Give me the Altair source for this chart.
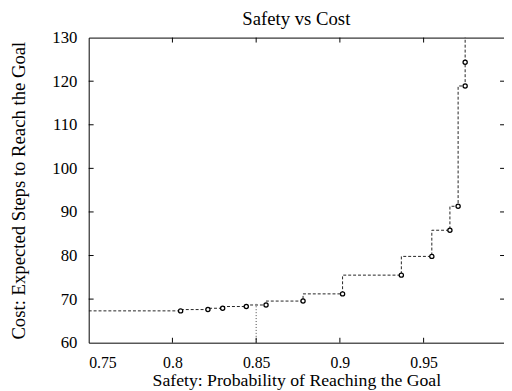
import altair as alt
import pandas as pd

# Frontier points (safety, expected cost)
safety = [0.8049, 0.8212, 0.8300, 0.8441, 0.8559, 0.8780, 0.9016, 0.9367, 0.9549, 0.9657, 0.9706, 0.9748, 0.9748]
cost = [67.3, 67.6, 67.9, 68.3, 68.65, 69.55, 71.2, 75.5, 79.8, 85.8, 91.3, 118.9, 124.35]

# step line extends from the left edge and beyond the top
line_start = (0.75, 67.3)
line_end = (0.9748, 135.0)

# threshold marker
threshold_x = 0.85
threshold_y = [60.0, 68.9]

x_ticks = [0.75, 0.8, 0.85, 0.9, 0.95]
y_ticks = [60, 70, 80, 90, 100, 110, 120, 130]

W, H = 422, 310
FONT = "Liberation Serif"

pts = pd.DataFrame({"s": safety, "c": cost})
line_df = pd.DataFrame({
    "s": [line_start[0]] + safety + [line_end[0]],
    "c": [line_start[1]] + cost + [line_end[1]],
})
line_df["o"] = range(len(line_df))
thr_df = pd.DataFrame({"s": [threshold_x], "c": [threshold_y[0]], "c2": [threshold_y[1]]})
xt_df = pd.DataFrame({"s": x_ticks[1:]})
yt_df = pd.DataFrame({"c": y_ticks[1:-1]})

xscale = alt.Scale(domain=[0.75, 0.998], nice=False, zero=False)
yscale = alt.Scale(domain=[60, 130], nice=False, zero=False)

x_axis = alt.Axis(values=x_ticks, format=".2~f", ticks=False, grid=False,
                  domainColor="black", labelPadding=12, titlePadding=1,
                  labelFontSize=16, titleFontSize=18,
                  title="Safety: Probability of Reaching the Goal")
y_axis = alt.Axis(values=y_ticks, ticks=False, grid=False, domainColor="black",
                  labelPadding=12, titlePadding=24,
                  labelFontSize=17, titleFontSize=19,
                  title="Cost: Expected Steps to Reach the Goal")

line = alt.Chart(line_df).mark_line(
    interpolate="step-before", color="#222", strokeWidth=1, strokeDash=[3, 2], clip=True
).encode(
    x=alt.X("s:Q", scale=xscale, axis=x_axis),
    y=alt.Y("c:Q", scale=yscale, axis=y_axis),
    order="o:Q",
)

top = alt.Chart(pts).mark_point(opacity=0).encode(
    x=alt.X("s:Q", scale=xscale, axis=alt.Axis(orient="top", labels=False, ticks=False,
                                                 grid=False, domainColor="black", title=None)),
    y=alt.Y("c:Q", scale=yscale, axis=None),
)

thr = alt.Chart(thr_df).mark_rule(color="#444", strokeWidth=1, strokeDash=[1, 2]).encode(
    x=alt.X("s:Q", scale=xscale, axis=None),
    y=alt.Y("c:Q", scale=yscale, axis=None),
    y2="c2:Q",
)

markers = alt.Chart(pts).mark_point(
    shape="circle", size=18, filled=True, fill="white", stroke="black", strokeWidth=1.3, opacity=1
).encode(
    x=alt.X("s:Q", scale=xscale, axis=None),
    y=alt.Y("c:Q", scale=yscale, axis=None),
)

bt = alt.Chart(xt_df).mark_rule(color="black").encode(
    x=alt.X("s:Q", scale=xscale, axis=None), y=alt.value(H), y2=alt.value(H - 5))
tt = alt.Chart(xt_df).mark_rule(color="black").encode(
    x=alt.X("s:Q", scale=xscale, axis=None), y=alt.value(0), y2=alt.value(5))
lt = alt.Chart(yt_df).mark_rule(color="black").encode(
    y=alt.Y("c:Q", scale=yscale, axis=None), x=alt.value(0), x2=alt.value(5))
rt = alt.Chart(yt_df).mark_rule(color="black").encode(
    y=alt.Y("c:Q", scale=yscale, axis=None), x=alt.value(W - 4), x2=alt.value(W))

chart = alt.layer(line, top, thr, bt, tt, lt, rt, markers).resolve_axis(
    x="independent", y="independent"
).properties(
    width=W, height=H,
    title=alt.TitleParams("Safety vs Cost", font=FONT, fontSize=19, fontWeight="normal",
                          color="black", offset=0),
    autosize=alt.AutoSizeParams(type="none"),
    padding={"left": 82, "top": 27, "right": 0, "bottom": 46},
).configure_view(stroke=None).configure_axis(
    labelFont=FONT, titleFont=FONT,
    labelColor="black", titleColor="black", titleFontWeight="normal",
)

chart.save("out.html", embed_options={"renderer": "svg", "actions": False})
